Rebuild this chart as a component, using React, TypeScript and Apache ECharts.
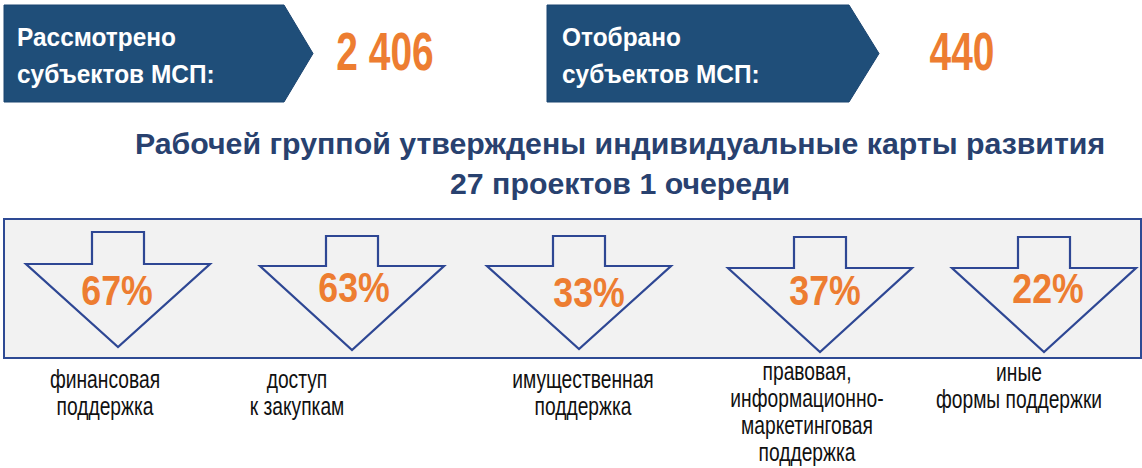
import React, { useEffect, useRef } from "react";
import * as echarts from "echarts";

// ---- data ----
const summaryLabels: string[][] = [
  ["Рассмотрено", "субъектов МСП:"],
  ["Отобрано", "субъектов МСП:"],
];
const summaryValues: number[] = [2406, 440];
const titleLines: string[] = [
  "Рабочей группой утверждены индивидуальные карты развития",
  "27 проектов 1 очереди",
];
const categories: string[][] = [
  ["финансовая", "поддержка"],
  ["доступ", "к закупкам"],
  ["имущественная", "поддержка"],
  ["правовая,", "информационно-", "маркетинговая", "поддержка"],
  ["иные", "формы поддержки"],
];
const percents: number[] = [67, 63, 33, 37, 22];

// ---- layout ----
const BLUE = "#1F4E79";
const ORANGE = "#ED7D31";
const NAVY = "#28416F";
const ARROW = "#2E4794";
const FONT = "'Liberation Sans', Arial, sans-serif";

const banners = [
  { x0: 4, x1: 284, tip: 313, top: 5, bottom: 102, textX: 17, numX: 385 },
  { x0: 547, x1: 849, tip: 879, top: 5, bottom: 102, textX: 562, numX: 962 },
];
const arrows = [
  { cx: 118, top: 232, sh: 264, tip: 347, pctY: 290, labX: 105, labY: 379 },
  { cx: 352, top: 236, sh: 266, tip: 350, pctY: 287, labX: 297, labY: 379 },
  { cx: 579, top: 236, sh: 266, tip: 349, pctY: 292, labX: 583, labY: 379 },
  { cx: 820, top: 237, sh: 268, tip: 352, pctY: 290, labX: 807, labY: 371 },
  { cx: 1044, top: 237, sh: 268, tip: 352, pctY: 288, labX: 1019, labY: 372 },
];
const pctOffsets = [-1, 2, 10, 5, 4];

function fmt(n: number): string {
  return String(n).replace(/\B(?=(\d{3})+(?!\d))/g, " ");
}

export default function App() {
  const ref = useRef<HTMLDivElement>(null);
  useEffect(() => {
    if (!ref.current) return;
    const chart = echarts.init(ref.current, undefined, { renderer: "svg" });
    const g: any[] = [];

    banners.forEach((b, i) => {
      const my = (b.top + b.bottom) / 2;
      g.push({
        type: "polygon",
        shape: {
          points: [
            [b.x0, b.top],
            [b.x1, b.top],
            [b.tip, my],
            [b.x1, b.bottom],
            [b.x0, b.bottom],
          ],
        },
        style: { fill: BLUE, stroke: "#1A4470", lineWidth: 1 },
      });
      summaryLabels[i].forEach((line, j) => {
        g.push({
          type: "text",
          x: b.textX,
          y: 37 + j * 37,
          scaleX: 0.94,
          style: {
            text: line,
            x: 0,
            y: 0,
            fill: "#FFFFFF",
            font: `bold 26px ${FONT}`,
            textAlign: "left",
            textVerticalAlign: "middle",
          },
        });
      });
      g.push({
        type: "text",
        x: b.numX,
        y: 51,
        scaleX: 0.72,
        style: {
          text: fmt(summaryValues[i]),
          x: 0,
          y: 0,
          fill: ORANGE,
          font: `bold 54px ${FONT}`,
          textAlign: "center",
          textVerticalAlign: "middle",
        },
      });
    });

    titleLines.forEach((line, j) => {
      g.push({
        type: "text",
        x: 620,
        y: j === 0 ? 144 : 184,
        scaleX: 1.01,
        style: {
          text: line,
          x: 0,
          y: 0,
          fill: NAVY,
          font: `bold 30px ${FONT}`,
          textAlign: "center",
          textVerticalAlign: "middle",
        },
      });
    });

    g.push({
      type: "rect",
      shape: { x: 4, y: 219, width: 1137, height: 139 },
      style: { fill: "#F2F2F2", stroke: "#2E4A94", lineWidth: 2 },
    });

    arrows.forEach((a, i) => {
      const hw = 92;
      const sw = 26;
      g.push({
        type: "polygon",
        shape: {
          points: [
            [a.cx - sw, a.top],
            [a.cx + sw, a.top],
            [a.cx + sw, a.sh],
            [a.cx + hw, a.sh],
            [a.cx, a.tip],
            [a.cx - hw, a.sh],
            [a.cx - sw, a.sh],
          ],
        },
        style: { fill: "none", stroke: ARROW, lineWidth: 2.2 },
      });
      g.push({
        type: "text",
        x: a.cx + pctOffsets[i],
        y: a.pctY,
        scaleX: 0.85,
        style: {
          text: percents[i] + "%",
          x: 0,
          y: 0,
          fill: ORANGE,
          font: `bold 42px ${FONT}`,
          textAlign: "center",
          textVerticalAlign: "middle",
        },
      });
      categories[i].forEach((line, j) => {
        g.push({
          type: "text",
          x: a.labX,
          y: a.labY + j * 27,
          scaleX: 0.74,
          style: {
            text: line,
            x: 0,
            y: 0,
            fill: "#111111",
            font: `26px ${FONT}`,
            textAlign: "center",
            textVerticalAlign: "middle",
          },
        });
      });
    });

    chart.setOption({ animation: false, graphic: { elements: g } });
    return () => chart.dispose();
  }, []);
  return (
    <div
      ref={ref}
      style={{ position: "absolute", left: 0, top: 0, width: 1142, height: 468 }}
    />
  );
}
